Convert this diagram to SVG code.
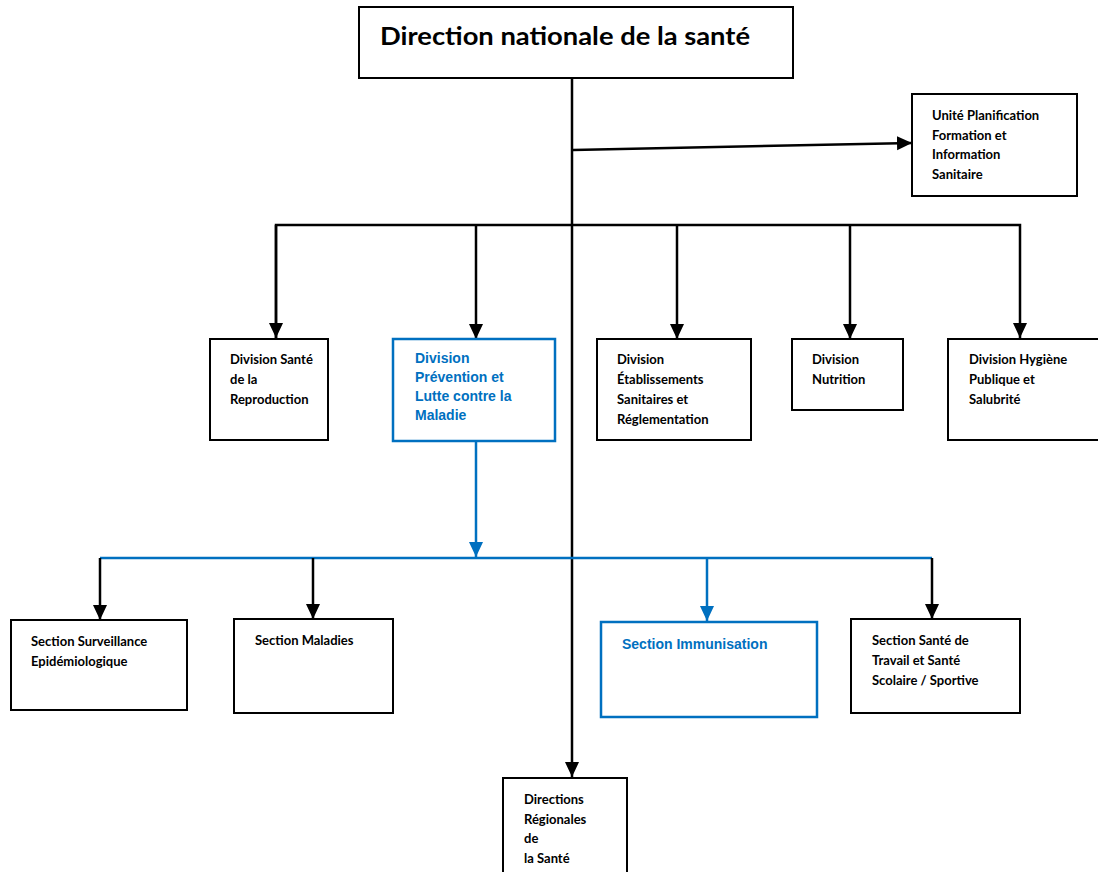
<svg xmlns="http://www.w3.org/2000/svg" width="1098" height="872" viewBox="0 0 1098 872">
<defs>
<style>
.box{fill:#fff;stroke:#000;stroke-width:2}
.bbox{fill:#fff;stroke:#0070c0;stroke-width:2.5}
.t{font-family:Lato,"Liberation Sans",sans-serif;font-weight:bold;font-size:13px;fill:#000}
.bt{font-family:"Liberation Sans",Arial,sans-serif;font-weight:bold;font-size:14px;fill:#0070c0}
.ln{fill:none;stroke:#000;stroke-width:2.5}
.bl{fill:none;stroke:#0070c0;stroke-width:2.5}
</style>
<marker id="ab" markerUnits="userSpaceOnUse" markerWidth="16" markerHeight="16" viewBox="0 0 16 16" refX="15" refY="8" orient="auto">
<path d="M0,1 L15,8 L0,15 Z" fill="#000"/>
</marker>
<marker id="au" markerUnits="userSpaceOnUse" markerWidth="16" markerHeight="16" viewBox="0 0 16 16" refX="15" refY="8" orient="auto">
<path d="M0,1 L15,8 L0,15 Z" fill="#0070c0"/>
</marker>
</defs>
<rect width="1098" height="872" fill="#fff"/>
<g id="connectors">
<line class="ln" x1="572" y1="78" x2="572" y2="777" marker-end="url(#ab)"/>
<line class="ln" x1="573" y1="150" x2="912" y2="143" marker-end="url(#ab)"/>
<polyline class="ln" points="276,338 276,225 1020,225 1020,338" marker-end="url(#ab)"/>
<line class="ln" x1="476" y1="225" x2="476" y2="339" marker-end="url(#ab)"/>
<line class="ln" x1="677" y1="225" x2="677" y2="339" marker-end="url(#ab)"/>
<line class="ln" x1="850" y1="225" x2="850" y2="339" marker-end="url(#ab)"/>
<line class="ln" x1="276" y1="225" x2="276" y2="338" marker-end="url(#ab)"/>
<line class="bl" x1="476" y1="441" x2="476" y2="557" marker-end="url(#au)"/>
<line class="bl" x1="100" y1="558" x2="932" y2="558"/>
<line class="ln" x1="100" y1="558" x2="100" y2="620" marker-end="url(#ab)"/>
<line class="ln" x1="313" y1="558" x2="313" y2="619" marker-end="url(#ab)"/>
<line class="bl" x1="707" y1="558" x2="707" y2="621" marker-end="url(#au)"/>
<line class="ln" x1="932" y1="558" x2="932" y2="619" marker-end="url(#ab)"/>
</g>
<g id="n-direction">
<rect class="box" x="359" y="7" width="434" height="71"/>
<text x="380" y="45" font-family="Lato,'Liberation Sans',sans-serif" font-weight="bold" font-size="25" textLength="370" lengthAdjust="spacingAndGlyphs">Direction nationale de la santé</text>
</g>
<g id="n-unite">
<rect class="box" x="912" y="94" width="165" height="102"/>
<text class="t" x="932"><tspan x="932" y="120">Unité Planification</tspan><tspan x="932" y="140">Formation et</tspan><tspan x="932" y="159">Information</tspan><tspan x="932" y="179">Sanitaire</tspan></text>
</g>
<g id="n-reproduction">
<rect class="box" x="210" y="339" width="118" height="101"/>
<text class="t"><tspan x="230" y="364">Division Santé</tspan><tspan x="230" y="384">de la</tspan><tspan x="230" y="404">Reproduction</tspan></text>
</g>
<g id="n-prevention">
<rect class="bbox" x="393" y="339" width="162" height="102"/>
<text class="bt"><tspan x="415" y="363">Division</tspan><tspan x="415" y="382">Prévention et</tspan><tspan x="415" y="401">Lutte contre la</tspan><tspan x="415" y="420">Maladie</tspan></text>
</g>
<g id="n-etablissements">
<rect class="box" x="597" y="339" width="154" height="101"/>
<text class="t"><tspan x="617" y="364">Division</tspan><tspan x="617" y="384">Établissements</tspan><tspan x="617" y="404">Sanitaires et</tspan><tspan x="617" y="424">Réglementation</tspan></text>
</g>
<g id="n-nutrition">
<rect class="box" x="792" y="339" width="111" height="71"/>
<text class="t"><tspan x="812" y="364">Division</tspan><tspan x="812" y="384">Nutrition</tspan></text>
</g>
<g id="n-hygiene">
<rect class="box" x="948" y="339" width="152" height="101"/>
<text class="t"><tspan x="969" y="364">Division Hygiène</tspan><tspan x="969" y="384">Publique et</tspan><tspan x="969" y="404">Salubrité</tspan></text>
</g>
<g id="n-surveillance">
<rect class="box" x="11" y="620" width="176" height="90"/>
<text class="t"><tspan x="31" y="646">Section Surveillance</tspan><tspan x="31" y="666">Epidémiologique</tspan></text>
</g>
<g id="n-maladies">
<rect class="box" x="234" y="619" width="159" height="94"/>
<text class="t" x="255" y="645">Section Maladies</text>
</g>
<g id="n-immunisation">
<rect class="bbox" x="601" y="622" width="216" height="95"/>
<text class="bt" x="622" y="649" font-size="14.5">Section Immunisation</text>
</g>
<g id="n-travail">
<rect class="box" x="851" y="619" width="169" height="94"/>
<text class="t"><tspan x="872" y="645">Section Santé de</tspan><tspan x="872" y="665">Travail et Santé</tspan><tspan x="872" y="685">Scolaire / Sportive</tspan></text>
</g>
<g id="n-regionales">
<rect class="box" x="503" y="778" width="124" height="100"/>
<text class="t"><tspan x="524" y="804">Directions</tspan><tspan x="524" y="824">Régionales</tspan><tspan x="524" y="843">de</tspan><tspan x="524" y="863">la Santé</tspan></text>
</g>
</svg>
